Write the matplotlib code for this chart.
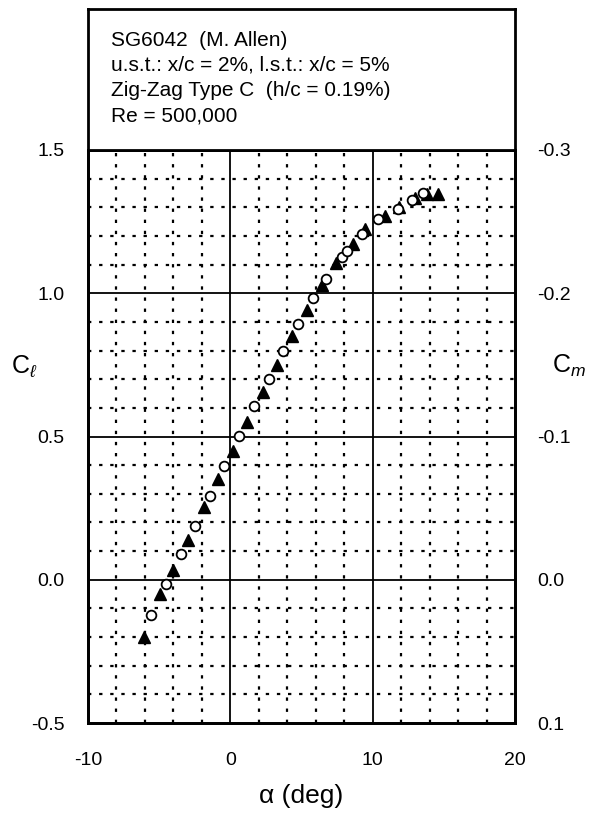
import matplotlib
matplotlib.use('Agg')
import matplotlib.pyplot as plt

plt.rcParams['font.family'] = ['Liberation Sans', 'DejaVu Sans']
plt.rcParams['mathtext.fontset'] = 'custom'
plt.rcParams['mathtext.rm'] = 'Liberation Sans'
plt.rcParams['mathtext.it'] = 'Liberation Sans:italic'
plt.rcParams['axes.unicode_minus'] = False

# filled triangles
alpha_tri = [-6.1, -4.94, -4.01, -2.95, -1.85, -0.89, 0.17, 1.19, 2.28, 3.26, 4.31,
             5.37, 6.42, 7.43, 8.64, 9.47, 10.87, 11.88, 12.98, 13.8, 14.62]
cl_tri = [-0.199, -0.051, 0.034, 0.139, 0.253, 0.351, 0.45, 0.552, 0.656, 0.75, 0.851,
          0.942, 1.029, 1.105, 1.172, 1.223, 1.27, 1.3, 1.334, 1.345, 1.345]

# open circles
alpha_circ = [-5.57, -4.54, -3.46, -2.48, -1.43, -0.42, 0.63, 1.69, 2.72, 3.72, 4.78,
              5.83, 6.7, 7.87, 8.18, 9.28, 10.4, 11.81, 12.75, 13.56]
cl_circ = [-0.123, -0.015, 0.09, 0.188, 0.293, 0.398, 0.502, 0.606, 0.701, 0.798, 0.892,
           0.982, 1.049, 1.125, 1.149, 1.207, 1.259, 1.294, 1.325, 1.349]

title_lines = ['SG6042  (M. Allen)',
               'u.s.t.: x/c = 2%, l.s.t.: x/c = 5%',
               'Zig-Zag Type C  (h/c = 0.19%)',
               'Re = 500,000']

x_ticks = [-10, 0, 10, 20]
cl_ticks = [-0.5, 0.0, 0.5, 1.0, 1.5]
cm_ticks = [0.1, 0.0, -0.1, -0.2, -0.3]

fig = plt.figure(figsize=(6.03, 8.17), dpi=100)
L, R = 88 / 603, 515 / 603
B, T = 1 - 723 / 817, 1 - 150 / 817
ax = fig.add_axes([L, B, R - L, T - B])

# dotted grid
for x in range(-8, 20, 2):
    if x not in (0, 10):
        ax.axvline(x, color='black', lw=1.6, ls=(0, (1.5, 3.5)), zorder=1)
for i in range(-4, 15):
    y = i / 10
    if i not in (0, 5, 10):
        ax.axhline(y, color='black', lw=1.6, ls=(0, (1.5, 3.5)), zorder=1)
for x in (0, 10):
    ax.axvline(x, color='black', lw=1.3, zorder=1)
for y in (0.0, 0.5, 1.0):
    ax.axhline(y, color='black', lw=1.3, zorder=1)

ax.plot(alpha_tri, cl_tri, ls='none', marker='^', ms=9, mfc='black', mec='black', zorder=3)
ax.plot(alpha_circ, cl_circ, ls='none', marker='o', ms=7, mfc='white', mec='black', mew=1.3, zorder=4)

ax.set_xlim(-10, 20)
ax.set_ylim(-0.5, 1.5)
ax.set_xticks(x_ticks)
ax.set_yticks(cl_ticks)
ax.set_yticklabels(['%.1f' % v for v in cl_ticks])
ax.tick_params(axis='y', length=0, labelsize=14, pad=17)
ax.tick_params(axis='x', length=0, labelsize=14, pad=21)
for s in ax.spines.values():
    s.set_linewidth(2)

ax2 = ax.twinx()
ax2.set_ylim(0.1, -0.3)
ax2.set_yticks(cm_ticks)
ax2.set_yticklabels(['%.1f' % v for v in cm_ticks])
ax2.tick_params(length=0, labelsize=14, pad=16)
for s in ax2.spines.values():
    s.set_linewidth(2)

fig.text(11 / 603, 1 - 366 / 817, r'C$_{\ell}$', fontsize=18, ha='left', va='center')
fig.text(552 / 603, 1 - 366 / 817, r'C$_{\mathit{m}}$', fontsize=18, ha='left', va='center')
fig.text(301 / 603, 1 - 796 / 817, 'α (deg)', fontsize=19, ha='center', va='center')

# title box
tb = fig.add_axes([L, 1 - 150 / 817, R - L, (150 - 9) / 817])
tb.set_xticks([])
tb.set_yticks([])
for s in tb.spines.values():
    s.set_linewidth(2)
for k, line in enumerate(title_lines):
    fig.text(111 / 603, 1 - (40 + 25.3 * k) / 817, line, fontsize=15, ha='left', va='center')

fig.savefig('out.png', dpi=100)
